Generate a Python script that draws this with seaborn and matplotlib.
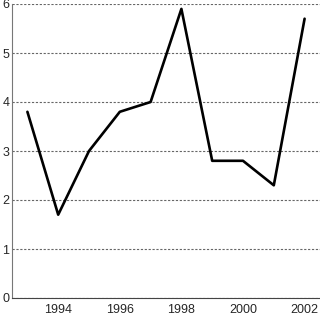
import matplotlib
matplotlib.use("Agg")
import matplotlib.pyplot as plt
import seaborn as sns
import pandas as pd

years = [1993, 1994, 1995, 1996, 1997, 1998, 1999, 2000, 2001, 2002]
values = [3.8, 1.7, 3.0, 3.8, 4.0, 5.9, 2.8, 2.8, 2.3, 5.7]
xtick_labels = ["1994", "1996", "1998", "2000", "2002"]

sns.set_style("white")
plt.rcParams['font.family'] = ['Liberation Sans', 'DejaVu Sans']

df = pd.DataFrame({"year": years, "value": values})
fig = plt.figure(figsize=(3.2, 3.18), dpi=100)
ax = fig.add_axes([12/320, 20/318, 1 - 12/320, 294/318])
sns.lineplot(data=df, x="year", y="value", ax=ax, color="black", linewidth=1.9)

ax.set_xlim(1992.5, 2002.5)
ax.set_ylim(0, 6)
ax.set_yticks(range(0, 7))
ax.set_yticklabels([str(i) for i in range(0, 7)], fontsize=9)
ax.set_xticks(years)
ax.set_xticklabels([str(y) if str(y) in xtick_labels else "" for y in years], fontsize=9)
ax.tick_params(axis="x", direction="in", length=6, color="#777777", width=1, pad=4)
ax.tick_params(axis="y", length=0, pad=2)
ax.grid(axis="y", linestyle=(0, (2, 1.5)), color="#666666", linewidth=0.8)
ax.set_axisbelow(True)
for s in ["top", "right"]:
    ax.spines[s].set_visible(False)
ax.spines["left"].set_color("#777777")
ax.spines["bottom"].set_color("#444444")
ax.set_xlabel("")
ax.set_ylabel("")
fig.savefig("out.png", dpi=100)
